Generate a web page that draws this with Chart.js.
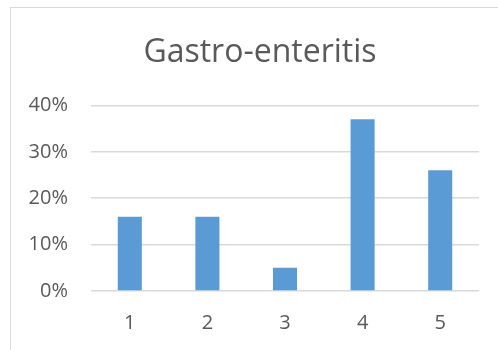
<!DOCTYPE html>
<html>
<head>
<meta charset="utf-8">
<script src="https://cdn.jsdelivr.net/npm/chart.js@4/dist/chart.umd.min.js"></script>
<style>
  html, body { margin: 0; padding: 0; background: #ffffff; }
  #frame {
    position: absolute; left: 10px; top: 7px; width: 520px; height: 360px;
    border-left: 1px solid #d9d9d9; border-top: 1px solid #d9d9d9; box-sizing: border-box;
  }
  #wrap { position: absolute; left: 0; top: 0; width: 498px; height: 350px; }
</style>
</head>
<body>
<div id="frame"></div>
<div id="wrap"><canvas id="c" width="498" height="350"></canvas></div>
<script>
// Share of cases per group
const categories = ['1', '2', '3', '4', '5'];
const shares = [16, 16, 5, 37, 26];
const yTicks = [0, 10, 20, 30, 40];

const FONT = '"Open Sans", sans-serif';
const TEXT = '#595959';

// Centre the title over the framed chart box rather than the full canvas
const titleOffset = {
  id: 'titleOffset',
  afterLayout(chart) {
    if (chart.titleBlock) chart.titleBlock.left = 41;
  }
};

new Chart(document.getElementById('c'), {
  type: 'bar',
  data: {
    labels: categories,
    datasets: [{
      data: shares,
      backgroundColor: '#5b9bd5',
      borderWidth: 0,
      categoryPercentage: 1,
      barPercentage: 0.31
    }]
  },
  options: {
    responsive: false,
    animation: false,
    layout: { padding: { left: 0, right: 19, top: 0, bottom: 0 } },
    plugins: {
      legend: { display: false },
      tooltip: { enabled: false },
      title: {
        display: true,
        text: 'Gastro-enteritis',
        color: TEXT,
        font: { family: FONT, size: 32, weight: 'normal' },
        padding: { top: 34, bottom: 33 }
      }
    },
    scales: {
      x: {
        grid: { display: false, drawTicks: false },
        border: { display: false },
        ticks: { color: TEXT, font: { family: FONT, size: 20 }, padding: 20 },
        afterFit(scale) { scale.height = 59; }
      },
      y: {
        min: 0,
        max: yTicks[yTicks.length - 1],
        afterBuildTicks(scale) { scale.ticks = yTicks.map(v => ({ value: v })); },
        grid: { color: '#d9d9d9', lineWidth: 1.5, drawTicks: false },
        border: { display: false },
        ticks: {
          color: TEXT,
          font: { family: FONT, size: 20 },
          padding: 23,
          callback: v => v + '%'
        },
        afterFit(scale) { scale.width = 91; }
      }
    }
  },
  plugins: [titleOffset]
});
</script>
</body>
</html>
